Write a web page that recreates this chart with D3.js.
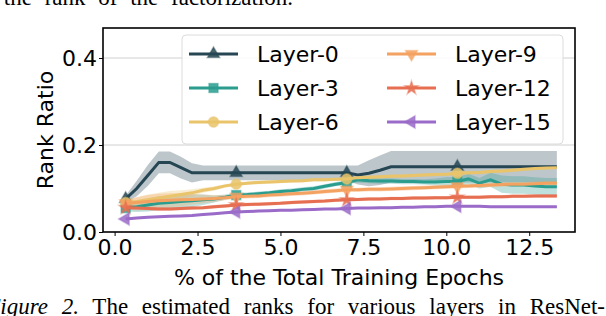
<!DOCTYPE html>
<html>
<head>
<meta charset="utf-8">
<script src="https://cdn.jsdelivr.net/npm/d3@7"></script>
<style>
body { margin: 0; background: #fff; }
svg { display: block; }
text { font-family: "DejaVu Sans", sans-serif; }
.paper { font-family: "Liberation Serif", "Times New Roman", serif; }
</style>
</head>
<body>
<svg id="chart" width="606" height="316"></svg>
<script>
// checkpoints: every 1/3 % of training epochs
const epochs = d3.range(1, 41).map(i => i / 3);

const layers = ['Layer-0', 'Layer-3', 'Layer-6', 'Layer-9', 'Layer-12', 'Layer-15'];

const layer0 = [0.076, 0.10, 0.13, 0.16, 0.16, 0.148, 0.136, 0.136, 0.136, 0.136,
    0.136, 0.136, 0.136, 0.136, 0.136, 0.136, 0.136, 0.136, 0.136, 0.136,
    0.136, 0.131, 0.135, 0.142, 0.150, 0.150, 0.150, 0.150, 0.150, 0.150,
    0.150, 0.150, 0.150, 0.150, 0.150, 0.150, 0.150, 0.150, 0.150, 0.150];
const layer0Std = [0.008, 0.018, 0.024, 0.025, 0.025, 0.025, 0.022, 0.017, 0.017, 0.017,
    0.017, 0.017, 0.017, 0.017, 0.017, 0.017, 0.017, 0.017, 0.017, 0.017,
    0.017, 0.022, 0.03, 0.034, 0.036, 0.036, 0.036, 0.036, 0.036, 0.036,
    0.036, 0.036, 0.036, 0.036, 0.036, 0.036, 0.036, 0.036, 0.036, 0.036];

const layer3 = [0.055, 0.058, 0.062, 0.066, 0.068, 0.07, 0.072, 0.074, 0.076, 0.08,
    0.085, 0.086, 0.088, 0.09, 0.093, 0.095, 0.098, 0.10, 0.105, 0.11,
    0.114, 0.12, 0.118, 0.117, 0.117, 0.116, 0.116, 0.115, 0.115, 0.116,
    0.116, 0.122, 0.112, 0.12, 0.11, 0.108, 0.108, 0.106, 0.104, 0.104];
const layer3Std = [0.008, 0.012, 0.015, 0.016, 0.016, 0.016, 0.015, 0.012, 0.008, 0.006,
    0.006, 0.005, 0.005, 0.005, 0.005, 0.005, 0.005, 0.005, 0.005, 0.005,
    0.005, 0.006, 0.006, 0.006, 0.006, 0.006, 0.006, 0.006, 0.008, 0.01,
    0.01, 0.012, 0.012, 0.016, 0.02, 0.02, 0.02, 0.02, 0.02, 0.02];

const layer6 = [0.068, 0.07, 0.074, 0.078, 0.082, 0.086, 0.09, 0.096, 0.10, 0.106,
    0.11, 0.112, 0.114, 0.115, 0.116, 0.117, 0.118, 0.12, 0.12, 0.121,
    0.122, 0.125, 0.126, 0.127, 0.128, 0.129, 0.13, 0.131, 0.132, 0.133,
    0.135, 0.136, 0.137, 0.139, 0.14, 0.142, 0.144, 0.146, 0.147, 0.148];
const layer6Std = [0.006, 0.01, 0.012, 0.012, 0.012, 0.01, 0.008, 0.006, 0.005, 0.004,
    0.004, 0.004, 0.004, 0.004, 0.004, 0.004, 0.004, 0.004, 0.004, 0.004,
    0.004, 0.004, 0.004, 0.004, 0.004, 0.004, 0.004, 0.004, 0.004, 0.004,
    0.004, 0.004, 0.004, 0.004, 0.004, 0.004, 0.004, 0.004, 0.004, 0.004];

const layer9 = [0.066, 0.068, 0.07, 0.072, 0.073, 0.074, 0.075, 0.076, 0.077, 0.079,
    0.081, 0.082, 0.083, 0.085, 0.086, 0.088, 0.089, 0.091, 0.093, 0.095,
    0.097, 0.097, 0.098, 0.098, 0.099, 0.10, 0.101, 0.102, 0.103, 0.104,
    0.105, 0.106, 0.107, 0.108, 0.109, 0.11, 0.11, 0.111, 0.112, 0.112];
const layer9Std = [0.008, 0.012, 0.015, 0.016, 0.016, 0.015, 0.012, 0.01, 0.008, 0.006,
    0.005, 0.005, 0.005, 0.005, 0.005, 0.005, 0.005, 0.005, 0.005, 0.005,
    0.005, 0.005, 0.005, 0.005, 0.005, 0.005, 0.005, 0.005, 0.005, 0.005,
    0.005, 0.005, 0.005, 0.005, 0.005, 0.005, 0.005, 0.005, 0.005, 0.005];

const layer12 = [0.056, 0.055, 0.054, 0.053, 0.053, 0.054, 0.055, 0.056, 0.058, 0.06,
    0.062, 0.063, 0.064, 0.065, 0.066, 0.068, 0.069, 0.07, 0.071, 0.073,
    0.074, 0.075, 0.076, 0.076, 0.077, 0.077, 0.078, 0.078, 0.079, 0.079,
    0.08, 0.08, 0.08, 0.081, 0.081, 0.082, 0.082, 0.083, 0.083, 0.083];
const layer12Std = [0.005, 0.005, 0.004, 0.004, 0.004, 0.004, 0.004, 0.004, 0.004, 0.004,
    0.004, 0.004, 0.004, 0.004, 0.004, 0.004, 0.004, 0.004, 0.004, 0.004,
    0.004, 0.004, 0.004, 0.004, 0.004, 0.004, 0.004, 0.004, 0.004, 0.004,
    0.004, 0.004, 0.004, 0.004, 0.004, 0.004, 0.004, 0.004, 0.004, 0.004];

const layer15 = [0.03, 0.032, 0.034, 0.035, 0.036, 0.037, 0.038, 0.04, 0.042, 0.044,
    0.046, 0.047, 0.048, 0.049, 0.05, 0.05, 0.051, 0.052, 0.053, 0.053,
    0.054, 0.055, 0.055, 0.056, 0.056, 0.057, 0.057, 0.058, 0.058, 0.059,
    0.059, 0.059, 0.059, 0.058, 0.058, 0.058, 0.058, 0.058, 0.058, 0.058];
const layer15Std = epochs.map(() => 0.002);

const colors = ['#264653', '#2a9d8f', '#e9c46a', '#f4a261', '#e76f51', '#9a6bc8'];
const xTicks = [0, 2.5, 5, 7.5, 10, 12.5];
const yTicks = [0, 0.2, 0.4];

const series = [
    {name: layers[0], mean: layer0, std: layer0Std, color: colors[0], symbol: d3.symbolTriangle, rot: 0},
    {name: layers[1], mean: layer3, std: layer3Std, color: colors[1], symbol: d3.symbolSquare, rot: 0},
    {name: layers[2], mean: layer6, std: layer6Std, color: colors[2], symbol: d3.symbolCircle, rot: 0},
    {name: layers[3], mean: layer9, std: layer9Std, color: colors[3], symbol: d3.symbolTriangle, rot: 180},
    {name: layers[4], mean: layer12, std: layer12Std, color: colors[4], symbol: d3.symbolStar, rot: 0},
    {name: layers[5], mean: layer15, std: layer15Std, color: colors[5], symbol: d3.symbolTriangle, rot: -90}
];

const svg = d3.select('#chart');
const pl = 103, pr = 575, pt = 28, pb = 232;
const x = d3.scaleLinear().domain([-0.35, 13.88]).range([pl, pr]);
const y = d3.scaleLinear().domain([0, 0.469]).range([pb, pt]);

// surrounding paper text, cropped by the picture edges (justified lines)
svg.append('text').attr('class', 'paper')
    .attr('x', 293).attr('y', 5).attr('text-anchor', 'end')
    .style('font-size', '23px').style('word-spacing', '7px')
    .text('the rank of the factorization.');
const cap = svg.append('text').attr('class', 'paper')
    .attr('x', 605).attr('y', 314).attr('text-anchor', 'end')
    .style('font-size', '23px').style('word-spacing', '8px');
cap.append('tspan').style('font-style', 'italic').text('Figure 2.');
cap.append('tspan').text(' The estimated ranks for various layers in ResNet-');

// grid
svg.append('g').selectAll('line').data(yTicks.slice(1)).join('line')
    .attr('x1', pl).attr('x2', pr)
    .attr('y1', d => y(d)).attr('y2', d => y(d))
    .attr('stroke', '#d0d0d0').attr('stroke-width', 1);

svg.append('defs').append('clipPath').attr('id', 'plotclip')
    .append('rect').attr('x', pl).attr('y', pt).attr('width', pr - pl).attr('height', pb - pt);

const plot = svg.append('g').attr('clip-path', 'url(#plotclip)');
const area = d3.area().x((d, i) => x(epochs[i]));
const line = d3.line().x((d, i) => x(epochs[i])).y(d => y(d));
const markerSize = s => s.symbol === d3.symbolStar ? 55 : s.symbol === d3.symbolTriangle ? 65 : 85;

series.forEach(s => {
    plot.append('path')
        .attr('d', area.y0((d, i) => y(d - s.std[i])).y1((d, i) => y(d + s.std[i]))(s.mean))
        .attr('fill', s.color).attr('fill-opacity', 0.3);
});
series.forEach(s => {
    plot.append('path').attr('d', line(s.mean))
        .attr('fill', 'none').attr('stroke', s.color).attr('stroke-width', 3);
    const marks = s.mean.map((v, i) => [epochs[i], v]).filter((d, i) => i % 10 === 0);
    plot.selectAll(null).data(marks).join('path')
        .attr('transform', d => `translate(${x(d[0])},${y(d[1])}) rotate(${s.rot})`)
        .attr('d', d3.symbol(s.symbol, markerSize(s))())
        .attr('fill', s.color).attr('fill-opacity', 0.85)
        .attr('stroke', s.color).attr('stroke-opacity', 0.4).attr('stroke-width', 1.5);
});

// axes
const xAxis = svg.append('g').attr('transform', `translate(0,${pb})`)
    .call(d3.axisBottom(x).tickValues(xTicks).tickFormat(d3.format('.1f')).tickSize(4).tickPadding(3));
const yAxis = svg.append('g').attr('transform', `translate(${pl},0)`)
    .call(d3.axisLeft(y).tickValues(yTicks).tickFormat(d3.format('.1f')).tickSize(4).tickPadding(2));
[xAxis, yAxis].forEach(a => {
    a.select('.domain').remove();
    a.selectAll('text').style('font-size', '22px').attr('fill', '#000');
    a.selectAll('line').attr('stroke', '#000').attr('stroke-width', 1);
});
svg.append('rect').attr('x', pl).attr('y', pt).attr('width', pr - pl).attr('height', pb - pt)
    .attr('fill', 'none').attr('stroke', '#000').attr('stroke-width', 1.6);

svg.append('text').attr('x', (pl + pr) / 2).attr('y', 285).attr('text-anchor', 'middle')
    .style('font-size', '22px').text('% of the Total Training Epochs');
svg.append('text').attr('transform', `translate(53,${(pt + pb) / 2}) rotate(-90)`)
    .attr('text-anchor', 'middle').style('font-size', '22px').text('Rank Ratio');

// legend
const lg = svg.append('g');
lg.append('rect').attr('x', 182).attr('y', 35).attr('width', 381).attr('height', 109).attr('rx', 4)
    .attr('fill', '#fff').attr('fill-opacity', 0.85).attr('stroke', '#dcdcdc').attr('stroke-width', 1);
series.forEach((s, i) => {
    const col = Math.floor(i / 3), row = i % 3;
    const x0 = 189 + col * 198, yy = 54 + row * 34;
    lg.append('line').attr('x1', x0).attr('x2', x0 + 49).attr('y1', yy).attr('y2', yy)
        .attr('stroke', s.color).attr('stroke-width', 3);
    lg.append('path').attr('transform', `translate(${x0 + 24.5},${yy}) rotate(${s.rot})`)
        .attr('d', d3.symbol(s.symbol, markerSize(s))())
        .attr('fill', s.color).attr('fill-opacity', 0.85)
        .attr('stroke', s.color).attr('stroke-opacity', 0.4).attr('stroke-width', 1.5);
    lg.append('text').attr('x', x0 + 68).attr('y', yy + 8).style('font-size', '22px').text(s.name);
});
</script>
</body>
</html>
